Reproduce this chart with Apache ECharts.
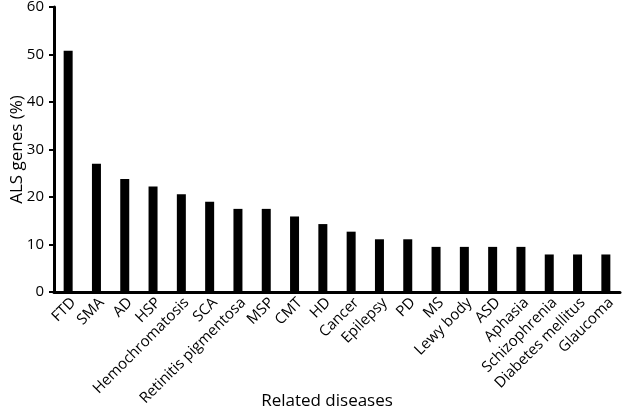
<!DOCTYPE html>
<html><head><meta charset="utf-8">
<script src="https://cdn.jsdelivr.net/npm/echarts@6/dist/echarts.min.js"></script>
<style>html,body{margin:0;padding:0;background:#fff}#c{width:624px;height:411px}</style>
</head><body><div id="c"></div>
<script>
const categories = ["FTD","SMA","AD","HSP","Hemochromatosis","SCA","Retinitis pigmentosa","MSP","CMT","HD","Cancer","Epilepsy","PD","MS","Lewy body","ASD","Aphasia","Schizophrenia","Diabetes mellitus","Glaucoma"];
const values = [50.8,27.0,23.8,22.2,20.6,19.0,17.5,17.5,15.9,14.3,12.7,11.1,11.1,9.5,9.5,9.5,9.5,7.9,7.9,7.9];
const yTicks = [0,10,20,30,40,50,60];
const chart = echarts.init(document.getElementById('c'), null, {renderer:'canvas'});
const font = '"Open Sans", "Noto Sans", sans-serif';
chart.setOption({
  animation:false,
  grid:{left:54,right:4,top:7,bottom:119,containLabel:false,outerBoundsMode:'none'},
  xAxis:{type:'category',data:categories,
    axisLine:{lineStyle:{color:'#000',width:3}},
    axisTick:{show:false},
    axisLabel:{rotate:45,interval:0,color:'#000',fontSize:15,fontFamily:font,margin:3,verticalAlign:'top'},
    name:'Related diseases',nameLocation:'middle',nameGap:101,nameMoveOverlap:false,
    nameTextStyle:{color:'#000',fontSize:17,fontFamily:font,padding:[0,20,0,0]}},
  yAxis:{type:'value',min:yTicks[0],max:yTicks[yTicks.length-1],interval:10,
    axisLine:{show:true,lineStyle:{color:'#000',width:3}},
    axisTick:{show:true,length:5,lineStyle:{color:'#000',width:2}},
    splitLine:{show:false},
    axisLabel:{color:'#000',fontSize:15,fontFamily:font,margin:10},
    name:'ALS genes (%)',nameLocation:'middle',nameGap:28,nameMoveOverlap:false,
    nameTextStyle:{color:'#000',fontSize:17,fontFamily:font}},
  series:[{type:'bar',data:values,barWidth:9,itemStyle:{color:'#000'}}]
});
</script></body></html>
